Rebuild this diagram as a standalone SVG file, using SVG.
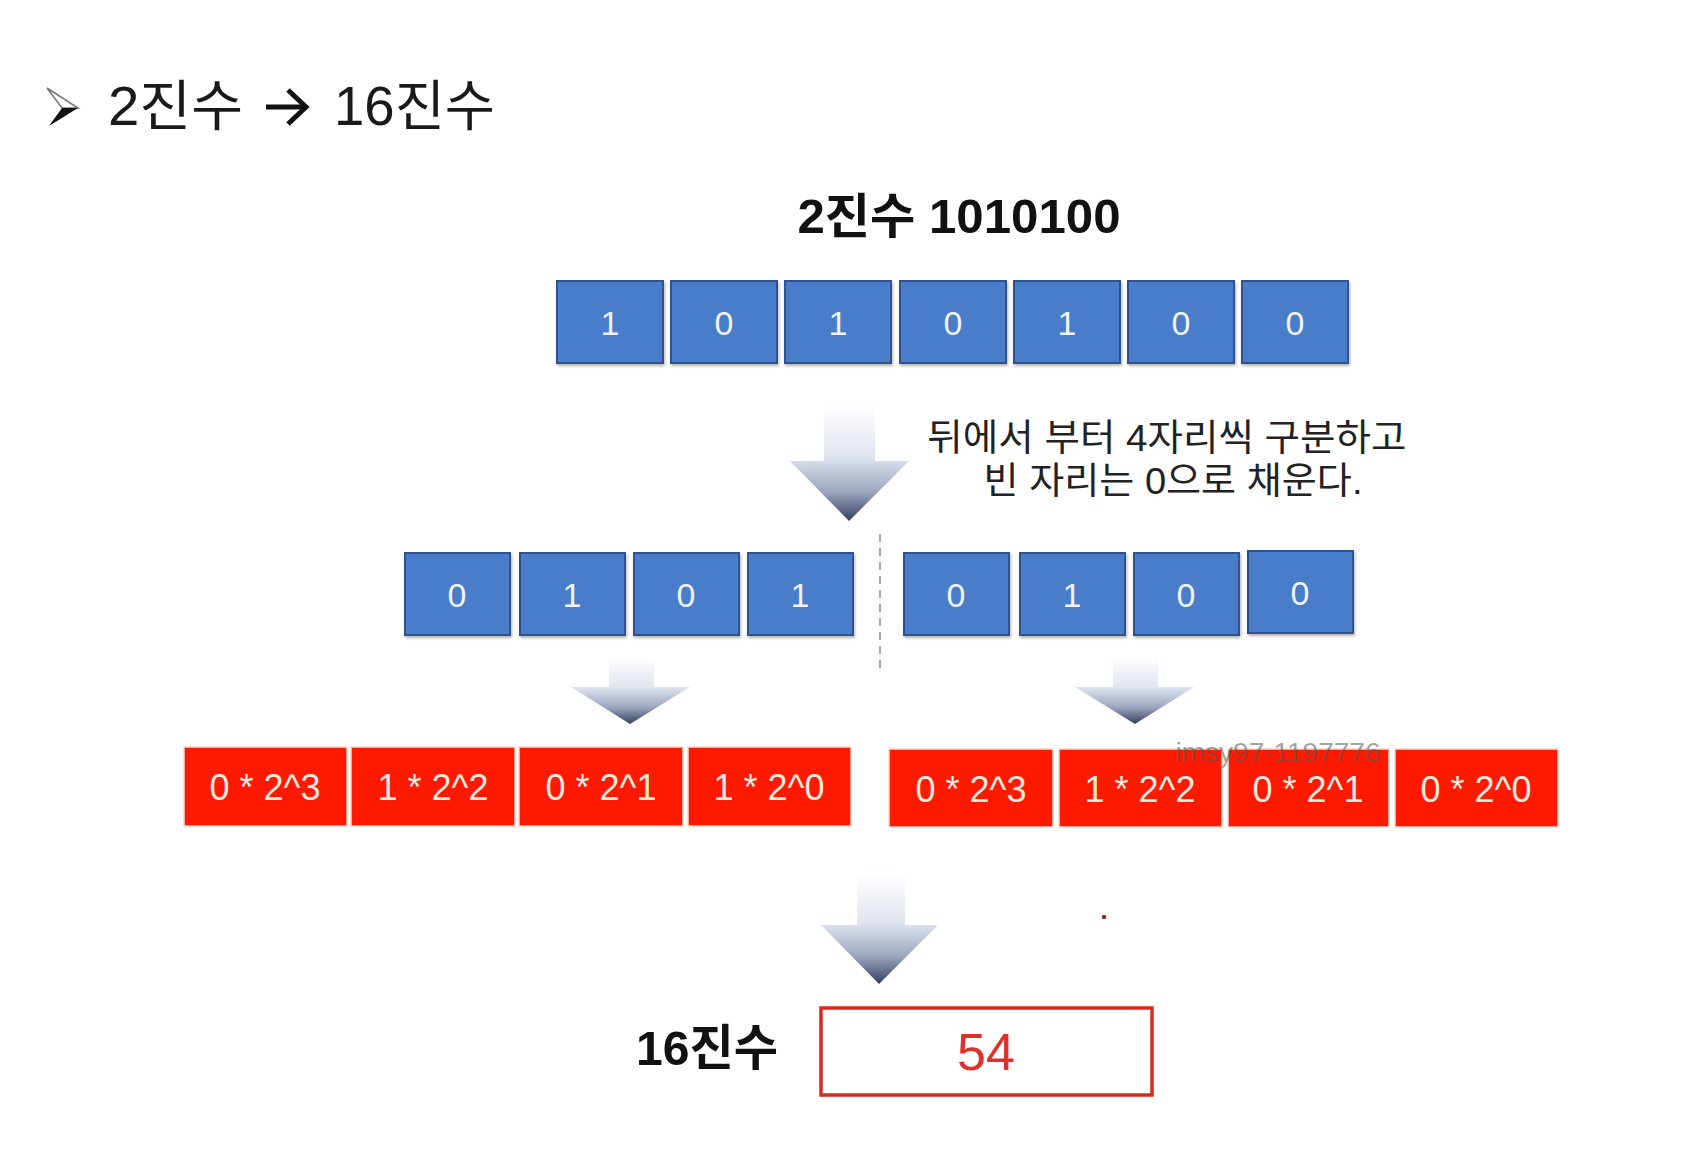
<svg xmlns="http://www.w3.org/2000/svg" width="1690" height="1166" viewBox="0 0 1690 1166">
<defs>
<linearGradient id="ag" x1="0" y1="0" x2="0" y2="1">
<stop offset="0" stop-color="#ffffff"/>
<stop offset="0.45" stop-color="#dfe4ee"/>
<stop offset="0.75" stop-color="#9ba6bf"/>
<stop offset="1" stop-color="#34415f"/>
</linearGradient>
<filter id="sh" x="-10%" y="-10%" width="125%" height="125%">
<feDropShadow dx="1" dy="2" stdDeviation="1.5" flood-color="#000" flood-opacity="0.3"/>
</filter>
</defs>
<style>
.t{font-family:"Liberation Sans","Noto Sans CJK KR",sans-serif}
.b{fill:#4a7cc9;stroke:#2e528f;stroke-width:2;filter:url(#sh)}
.bt{font-family:"Liberation Sans",sans-serif;font-size:34px;fill:#eef3fb;text-anchor:middle}
.r{fill:#fe1a00;stroke:#f3d6cc;stroke-width:1.5}
.rt{font-family:"Liberation Sans",sans-serif;font-size:36px;fill:#f8eadf;text-anchor:middle}
.arr{fill:url(#ag)}
</style>
<rect width="1690" height="1166" fill="#ffffff"/>

<g id="title">
<polygon points="47,88 78,108 62,108" fill="#ffffff" stroke="#777" stroke-width="1.5"/>
<polygon points="78,108 49,126 62,108" fill="#111"/>
<text class="t" x="108" y="125" font-size="55" fill="#1a1a1a" textLength="135" lengthAdjust="spacingAndGlyphs">2진수</text>
<g stroke="#111" stroke-width="5" fill="none" stroke-linecap="butt">
<line x1="266" y1="107" x2="304" y2="107"/>
<polyline points="288,90 306,107 288,124"/>
</g>
<text class="t" x="334" y="125" font-size="55" fill="#1a1a1a" textLength="161" lengthAdjust="spacingAndGlyphs">16진수</text>
</g>

<g id="heading">
<text class="t" x="959" y="233" font-size="48" font-weight="bold" text-anchor="middle" fill="#111" textLength="323" lengthAdjust="spacingAndGlyphs">2진수 1010100</text>
</g>

<g id="row1">
<rect class="b" x="557" y="281" width="106" height="82"/><text class="bt" x="610" y="335">1</text>
<rect class="b" x="671" y="281" width="106" height="82"/><text class="bt" x="724" y="335">0</text>
<rect class="b" x="785" y="281" width="106" height="82"/><text class="bt" x="838" y="335">1</text>
<rect class="b" x="900" y="281" width="106" height="82"/><text class="bt" x="953" y="335">0</text>
<rect class="b" x="1014" y="281" width="106" height="82"/><text class="bt" x="1067" y="335">1</text>
<rect class="b" x="1128" y="281" width="106" height="82"/><text class="bt" x="1181" y="335">0</text>
<rect class="b" x="1242" y="281" width="106" height="82"/><text class="bt" x="1295" y="335">0</text>
</g>

<g id="note">
<text class="t" font-size="37" fill="#222" text-anchor="middle">
<tspan x="1172" y="451" textLength="479" lengthAdjust="spacingAndGlyphs">뒤에서 부터 4자리씩 구분하고</tspan>
<tspan x="1173" y="494" textLength="379" lengthAdjust="spacingAndGlyphs">빈 자리는 0으로 채운다.</tspan>
</text>
</g>

<g id="row2">
<rect class="b" x="405" y="553" width="105" height="82"/><text class="bt" x="457" y="607">0</text>
<rect class="b" x="520" y="553" width="105" height="82"/><text class="bt" x="572" y="607">1</text>
<rect class="b" x="634" y="553" width="105" height="82"/><text class="bt" x="686" y="607">0</text>
<rect class="b" x="748" y="553" width="105" height="82"/><text class="bt" x="800" y="607">1</text>
<rect class="b" x="904" y="553" width="105" height="82"/><text class="bt" x="956" y="607">0</text>
<rect class="b" x="1020" y="553" width="105" height="82"/><text class="bt" x="1072" y="607">1</text>
<rect class="b" x="1134" y="553" width="105" height="82"/><text class="bt" x="1186" y="607">0</text>
<rect class="b" x="1248" y="551" width="105" height="82"/><text class="bt" x="1300" y="605">0</text>
</g>

<g id="row3">
<rect class="r" x="184" y="747" width="163" height="79"/><text class="rt" x="265" y="800">0 * 2^3</text>
<rect class="r" x="351" y="747" width="164" height="79"/><text class="rt" x="433" y="800">1 * 2^2</text>
<rect class="r" x="519" y="747" width="164" height="79"/><text class="rt" x="601" y="800">0 * 2^1</text>
<rect class="r" x="688" y="747" width="163" height="79"/><text class="rt" x="769" y="800">1 * 2^0</text>
<rect class="r" x="889" y="749" width="164" height="78"/><text class="rt" x="971" y="802">0 * 2^3</text>
<rect class="r" x="1059" y="749" width="163" height="78"/><text class="rt" x="1140" y="802">1 * 2^2</text>
<rect class="r" x="1228" y="749" width="161" height="78"/><text class="rt" x="1308" y="802">0 * 2^1</text>
<rect class="r" x="1395" y="749" width="163" height="78"/><text class="rt" x="1476" y="802">0 * 2^0</text>
</g>

<g id="result">
<text class="t" x="707" y="1065" font-size="49" font-weight="bold" text-anchor="middle" fill="#111" textLength="142" lengthAdjust="spacingAndGlyphs">16진수</text>
<rect x="821" y="1008" width="331" height="87" fill="#ffffff" stroke="#d9281e" stroke-width="3.5"/>
<text class="t" x="986" y="1070" font-size="52" text-anchor="middle" fill="#e0302a">54</text>
</g>

<g id="connectors">
<polygon class="arr" points="824,404 875,404 875,461 909,461 849,521 790,461 824,461"/>
<line x1="880" y1="534" x2="880" y2="668" stroke="#a6a6a6" stroke-width="2" stroke-dasharray="8,6"/>
<polygon class="arr" points="609,657 654,657 654,687 690,687 630,724 571,687 609,687"/>
<polygon class="arr" points="1113,657 1158,657 1158,687 1194,687 1135,724 1075,687 1113,687"/>
<polygon class="arr" points="857,873 905,873 905,925 938,925 879,984 821,925 857,925"/>
</g>

<text class="t" x="1278" y="762" font-size="28" text-anchor="middle" fill="#555" fill-opacity="0.55">imsy97-1197776</text>
<circle cx="1104" cy="917" r="2.2" fill="#8a2a20"/>
</svg>
